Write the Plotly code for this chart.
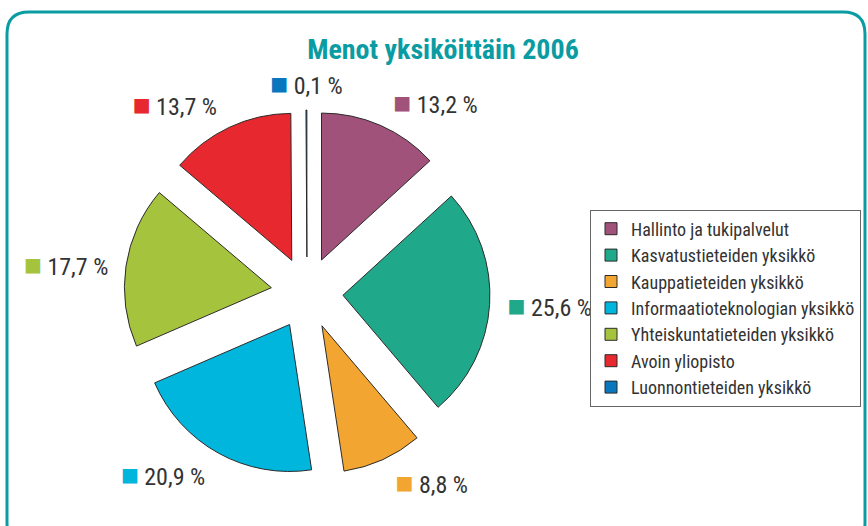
import math
import plotly.graph_objects as go

# Data
units = ['Hallinto ja tukipalvelut', 'Kasvatustieteiden yksikkö', 'Kauppatieteiden yksikkö',
         'Informaatioteknologian yksikkö', 'Yhteiskuntatieteiden yksikkö', 'Avoin yliopisto',
         'Luonnontieteiden yksikkö']
shares = [13.2, 25.6, 8.8, 20.9, 17.7, 13.7, 0.1]
share_labels = ['13,2 %', '25,6 %', '8,8 %', '20,9 %', '17,7 %', '13,7 %', '0,1 %']
colors = ['#A0527A', '#1FA98A', '#F2A531', '#00B6DD', '#A6C33E', '#E8282F', '#0877BE']

W, H = 868, 526
FONT = 'Roboto Condensed, Liberation Sans Narrow, Arial Narrow, Liberation Sans, sans-serif'
TEAL = '#0A9CA2'
LABEL_FONT = dict(family=FONT, size=24, color='#333333')

labels_txt = [f'<span style="color:{c};font-size:30px">■</span> {t}'
              for c, t in zip(colors, share_labels)]

# pie centre and sizes, in pixels
CX, CY = 307, 293
R_PIE = 183     # radius incl. pull
R_TXT = 192     # ring the percentage labels sit on


def px(x, y):
    return x / W, 1 - y / H


def dom(r):
    return dict(x=[(CX - r) / W, (CX + r) / W], y=[1 - (CY + r) / H, 1 - (CY - r) / H])


def rounded_rect(x0, y0, x1, y1, r):
    '''
    Rounded rectangle path in paper coords, given in pixels
    '''
    pts = [
        ('M', [(x0 + r, y0)]),
        ('L', [(x1 - r, y0)]),
        ('Q', [(x1, y0), (x1, y0 + r)]),
        ('L', [(x1, y1 - r)]),
        ('Q', [(x1, y1), (x1 - r, y1)]),
        ('L', [(x0 + r, y1)]),
        ('Q', [(x0, y1), (x0, y1 - r)]),
        ('L', [(x0, y0 + r)]),
        ('Q', [(x0, y0), (x0 + r, y0)]),
    ]
    out = []
    for cmd, coords in pts:
        s = ' '.join('%.5f,%.5f' % px(a, b) for a, b in coords)
        out.append(f'{cmd} {s}')
    return ' '.join(out) + ' Z'


n = len(units)
fig = go.Figure()

# exploded pie
fig.add_trace(go.Pie(
    labels=units,
    values=shares,
    textinfo='none',
    sort=False,
    direction='clockwise',
    rotation=0,
    pull=0.245,
    marker=dict(colors=colors, line=dict(color='#2b2b2b', width=1)),
    domain=dom(R_PIE),
    hoverinfo='label+percent',
))

# invisible, slightly larger pie that only carries the percentage labels
fig.add_trace(go.Pie(
    labels=units,
    values=shares,
    text=labels_txt,
    textinfo='text',
    textposition=['outside'] * (n - 1) + ['none'],
    sort=False,
    direction='clockwise',
    rotation=0,
    marker=dict(colors=['rgba(0,0,0,0)'] * n, line=dict(width=0)),
    outsidetextfont=LABEL_FONT,
    domain=dom(R_TXT),
    showlegend=False,
    hoverinfo='skip',
))

# the tiny last slice sits at 12 o'clock: centre its label above it
mid = 2 * math.pi * (sum(shares[:-1]) + shares[-1] / 2) / sum(shares)
ax, ay = px(CX + (R_TXT + 18) * math.sin(mid), CY - (R_TXT + 18) * math.cos(mid))

fig.update_layout(
    width=W, height=H,
    margin=dict(l=0, r=0, t=0, b=0, autoexpand=False),
    paper_bgcolor='white',
    title=dict(text='<b>Menot yksiköittäin 2006</b>', x=443 / W, xanchor='center',
               y=1 - 49 / H, yanchor='middle',
               font=dict(family=FONT, size=28, color=TEAL)),
    legend=dict(x=590 / W, y=1 - 308 / H, xanchor='left', yanchor='middle',
                bordercolor='#666666', borderwidth=1, bgcolor='white',
                font=dict(family=FONT, size=18, color='#333333')),
    annotations=[dict(text=labels_txt[-1], x=ax, y=ay, xref='paper', yref='paper',
                      xanchor='center', yanchor='middle', showarrow=False,
                      font=LABEL_FONT)],
    shapes=[dict(type='path', xref='paper', yref='paper',
                 path=rounded_rect(7, 12, 865, 545, 22),
                 line=dict(color=TEAL, width=3))],
)

fig.write_html('out.html', config={'displayModeBar': False},
               post_script="document.body.style.margin='0';")
